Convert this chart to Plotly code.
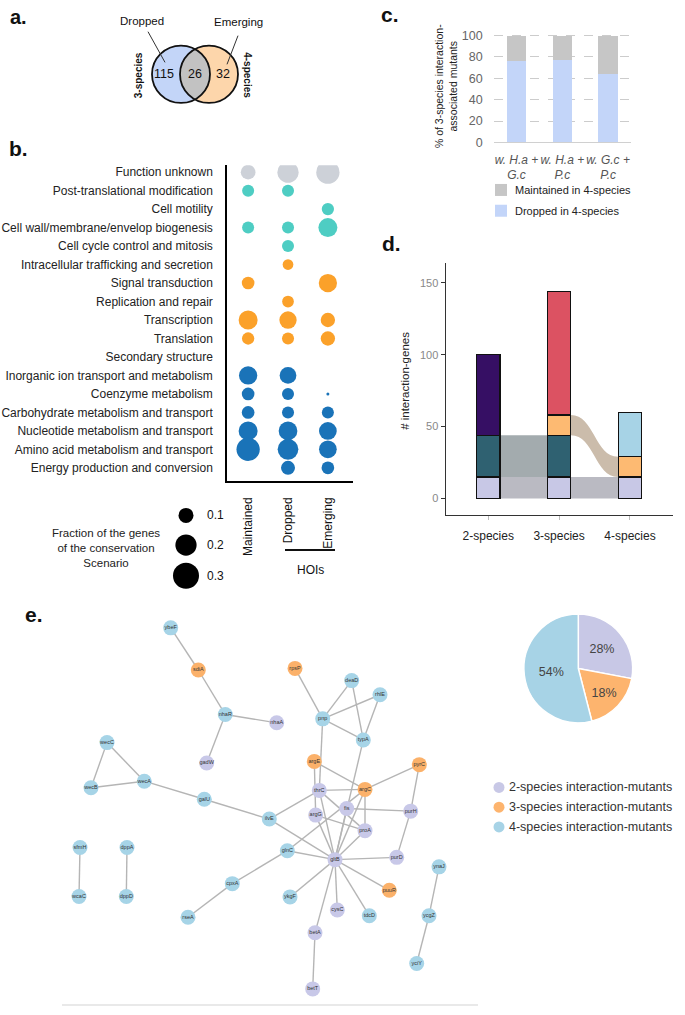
import numpy as np
import plotly.graph_objects as go

W, H = 685, 1015
FONT = "Liberation Sans, Arial, Helvetica, sans-serif"

# ================= DATA =================
# a. Venn diagram
venn_set_labels = ["Dropped", "Emerging"]
venn_side_labels = ["3-species", "4-species"]
venn_counts = [115, 26, 32]          # 3-species only, shared, 4-species only

# b. COG dot plot
cog_categories = [
    "Function unknown", "Post-translational modification", "Cell motility",
    "Cell wall/membrane/envelop biogenesis", "Cell cycle control and mitosis",
    "Intracellular trafficking and secretion", "Signal transduction",
    "Replication and repair", "Transcription", "Translation",
    "Secondary structure", "Inorganic ion transport and metabolism",
    "Coenzyme metabolism", "Carbohydrate metabolism and transport",
    "Nucleotide metabolism and transport", "Amino acid metabolism and transport",
    "Energy production and conversion"]
cog_class = ["unknown", "cellular", "cellular", "cellular", "cellular",
             "info", "info", "info", "info", "info", "info",
             "metab", "metab", "metab", "metab", "metab", "metab"]
scenarios = ["Maintained", "Dropped", "Emerging"]
frac_maintained = [0.096, 0.064, None, 0.064, None, None, 0.071, None, 0.16, 0.067,
                   None, 0.148, 0.071, 0.071, 0.16, 0.24, None]
frac_dropped = [0.20, 0.064, None, 0.064, 0.064, 0.051, None, 0.061, 0.133, 0.064,
                None, 0.124, 0.064, 0.064, 0.155, 0.19, 0.087]
frac_emerging = [0.24, None, 0.067, 0.16, None, None, 0.148, None, 0.091, 0.091,
                 None, None, 0.004, 0.064, 0.139, 0.139, 0.071]
size_legend_values = [0.1, 0.2, 0.3]
size_legend_title = "Fraction of the genes<br>of the conservation<br>Scenario"

# c. stacked percentage bars
c_conditions = ["w. H.a +<br>G.c", "w. H.a +<br>P.c", "w. G.c +<br>P.c"]
c_dropped = [76, 77, 64]
c_maintained = [24, 23, 36]
c_series_names = ["Maintained in 4-species", "Dropped in 4-species"]

# d. alluvial stacked bars
d_stages = ["2-species", "3-species", "4-species"]
d_shared_all = [15, 15, 15]
d_shared_23 = [29, 29, None]
d_shared_34 = [None, 14, 14]
d_only_2 = [56, None, None]
d_only_3 = [None, 86, None]
d_only_4 = [None, None, 31]

# e. network
node_names = ["ybeF", "sdiA", "nhaR", "gadW", "nhaA", "wecC", "wecB", "wecA", "galU",
              "sfmH", "wcaC", "dppA", "dppD", "cpxA", "rseA", "rpsP", "deaD", "rhlE",
              "pnp", "typA", "argE", "pyrC", "thrC", "argC", "fis", "purH", "argG",
              "ilvE", "proA", "glnC", "gltB", "purD", "ynaJ", "ykgF", "puuR", "cysC",
              "tdcD", "ycgZ", "betA", "yciY", "betT"]
node_x = [170.7, 198.3, 225.3, 206.7, 276.7, 107, 91, 144.3, 204.3,
          80, 79, 127, 126.3, 232.3, 188, 295, 351.7, 380,
          322.7, 363.3, 314.3, 419.3, 319.3, 365, 346.7, 410.7, 315.7,
          269.3, 365, 287.3, 335, 396.7, 439, 290, 389.3, 337.3,
          369.3, 429, 315, 416.7, 312.7]
node_y = [630.7, 673.3, 718.3, 767.3, 726.7, 746.7, 792.3, 785.7, 804,
          852.7, 902.3, 852.7, 902.3, 889.3, 923.3, 671.7, 684, 698.3,
          722.7, 744, 765.7, 769, 795, 794, 813.3, 816, 820,
          824, 835.7, 856, 865, 862.7, 872.3, 902.7, 896, 916,
          921.7, 921.7, 939, 970, 995.7]
node_group = [4, 3, 4, 2, 2, 4, 4, 4, 4,
              4, 4, 4, 4, 4, 4, 3, 4, 4,
              4, 4, 3, 3, 2, 3, 2, 2, 2,
              4, 2, 4, 2, 2, 4, 4, 3, 2,
              4, 4, 2, 4, 2]
edges = [("ybeF", "sdiA"), ("sdiA", "nhaR"), ("nhaR", "gadW"), ("nhaR", "nhaA"),
         ("wecC", "wecB"), ("wecC", "wecA"), ("wecB", "wecA"), ("wecA", "galU"),
         ("galU", "ilvE"), ("sfmH", "wcaC"), ("dppA", "dppD"), ("cpxA", "rseA"),
         ("cpxA", "glnC"), ("rpsP", "pnp"), ("pnp", "deaD"), ("pnp", "rhlE"),
         ("pnp", "typA"), ("deaD", "typA"), ("rhlE", "typA"), ("pnp", "thrC"),
         ("argE", "argG"), ("argE", "argC"), ("thrC", "argC"), ("argC", "pyrC"),
         ("argC", "glnC"), ("thrC", "ilvE"), ("ilvE", "gltB"), ("thrC", "proA"),
         ("fis", "purH"), ("argG", "proA"), ("argC", "proA"), ("typA", "gltB"),
         ("argC", "gltB"), ("fis", "gltB"), ("thrC", "gltB"), ("argG", "gltB"),
         ("proA", "gltB"), ("pyrC", "purH"), ("purH", "purD"), ("gltB", "purD"),
         ("gltB", "glnC"), ("gltB", "ykgF"), ("gltB", "cysC"), ("gltB", "tdcD"),
         ("gltB", "puuR"), ("gltB", "betA"), ("betA", "betT"), ("ynaJ", "ycgZ"),
         ("ycgZ", "yciY")]
pie_labels = ["2-species interaction-mutants", "3-species interaction-mutants",
              "4-species interaction-mutants"]
pie_values = [28, 18, 54]

# ================= STYLE =================
cog_colors = {"unknown": "#cdd1d8", "cellular": "#4ecdc3", "info": "#fba12a", "metab": "#1a73b8"}
c_colors = {"Maintained in 4-species": "#c6c6c6", "Dropped in 4-species": "#c3d5f9"}
d_colors = ["#c8c8e6", "#2f6171", "#fdba72", "#360f64", "#dc5262", "#a7d3e6"]
flow_colors = ["#babac2", "#a3abae", "#cbbcab"]
net_colors = {2: "#c8c8e8", 3: "#fbb16a", 4: "#a6d4e7"}
pie_colors = ["#c8c8e6", "#fdb46e", "#a7d3e6"]
K = 47.5  # dot diameter per sqrt(fraction)


def xd(a, b):
    return [a / W, b / W]


def yd(top, bottom):
    return [1 - bottom / H, 1 - top / H]


fig = go.Figure()
shapes = []
annotations = []


def ann(x, y, text, size=12, color="#222", xanchor="center", yanchor="middle",
        angle=0, bold=False, align="center", family=FONT):
    annotations.append(dict(
        x=x, y=y, xref="x", yref="y", text=("<b>%s</b>" % text) if bold else text,
        showarrow=False, xanchor=xanchor, yanchor=yanchor, textangle=angle,
        align=align, font=dict(size=size, color=color, family=family)))


# ---------- panel letters ----------
ann(18, 0, "a.", size=20, color="#111", bold=True, yanchor="top")
ann(18, 146, "b.", size=21, color="#111", bold=True)
ann(390, 11, "c.", size=21, color="#111", bold=True)
ann(391, 242, "d.", size=21, color="#111", bold=True)
ann(34, 617, "e.", size=21, color="#111", bold=True)

# ---------- a. Venn ----------
cxL, cxR, cy, r = 181, 209, 71, 29
shapes.append(dict(type="circle", xref="x", yref="y", x0=cxL - r, x1=cxL + r,
                   y0=cy - r, y1=cy + r, fillcolor="#c3d5f8", line=dict(width=0), layer="above"))
shapes.append(dict(type="circle", xref="x", yref="y", x0=cxR - r, x1=cxR + r,
                   y0=cy - r, y1=cy + r, fillcolor="#fdd6ab", line=dict(width=0), layer="above"))
half = (cxR - cxL) / 2.0
alpha = np.arccos(half / r)
t1 = np.linspace(-alpha, alpha, 40)
lx = np.concatenate([cxL + r * np.cos(t1), cxR - r * np.cos(t1[::-1])])
ly = np.concatenate([cy + r * np.sin(t1), cy + r * np.sin(t1[::-1])])
lens = "M " + " L ".join("%.2f,%.2f" % (a, b) for a, b in zip(lx, ly)) + " Z"
shapes.append(dict(type="path", xref="x", yref="y", path=lens, fillcolor="#c2c2c2",
                   line=dict(width=0), layer="above"))
for cx in (cxL, cxR):
    shapes.append(dict(type="circle", xref="x", yref="y", x0=cx - r, x1=cx + r,
                       y0=cy - r, y1=cy + r, line=dict(color="#111", width=1.8), layer="above"))
ann(164, 71, str(venn_counts[0]), size=12.5, color="#111")
ann(195, 71, str(venn_counts[1]), size=12.5, color="#111")
ann(223, 71, str(venn_counts[2]), size=12.5, color="#111")
ann(142, 17, venn_set_labels[0], size=11.5, color="#111")
ann(238, 18, venn_set_labels[1], size=11.5, color="#111")
shapes.append(dict(type="line", xref="x", yref="y", x0=148, y0=28, x1=165, y1=59,
                   line=dict(color="#333", width=1), layer="above"))
shapes.append(dict(type="line", xref="x", yref="y", x0=238, y0=32, x1=227, y1=61,
                   line=dict(color="#333", width=1), layer="above"))
ann(138, 72, venn_side_labels[0], size=10, color="#111", angle=-90, bold=True)
ann(248, 72, venn_side_labels[1], size=10, color="#111", angle=90, bold=True)

# ---------- b. dot plot ----------
# invisible traces to register all categories
fig.add_trace(go.Scatter(x=[scenarios[0]] * len(cog_categories), y=cog_categories,
                         mode="markers", marker=dict(opacity=0), xaxis="x2", yaxis="y2",
                         hoverinfo="skip", showlegend=False))
fig.add_trace(go.Scatter(x=scenarios, y=[cog_categories[0]] * 3, mode="markers",
                         marker=dict(opacity=0), xaxis="x2", yaxis="y2",
                         hoverinfo="skip", showlegend=False))
for scen, fr in zip(scenarios, [frac_maintained, frac_dropped, frac_emerging]):
    xs, ys, ss, cs = [], [], [], []
    for cat, cl, f in zip(cog_categories, cog_class, fr):
        if f is None:
            continue
        xs.append(scen)
        ys.append(cat)
        ss.append(K * np.sqrt(f))
        cs.append(cog_colors[cl])
    fig.add_trace(go.Scatter(x=xs, y=ys, mode="markers", xaxis="x2", yaxis="y2",
                             marker=dict(size=ss, color=cs, opacity=1, line=dict(width=0)),
                             showlegend=False, hoverinfo="skip"))
# size legend (drawn on overlay with same scale)
leg_y = [517, 547, 578]
fig.add_trace(go.Scatter(x=[186] * 3, y=leg_y, mode="markers", xaxis="x", yaxis="y",
                         marker=dict(size=[K * np.sqrt(v) for v in size_legend_values],
                                     color="black", opacity=1, line=dict(width=0)),
                         showlegend=False, hoverinfo="skip"))
for v, yy in zip(size_legend_values, leg_y):
    ann(205, yy, "%.1f" % v, size=12, color="#111", xanchor="left")
ann(106, 550, size_legend_title, size=11.5, color="#222")
shapes.append(dict(type="line", xref="x", yref="y", x0=285, y0=552, x1=335, y1=552,
                   line=dict(color="#111", width=2), layer="above"))
ann(310, 572, "HOIs", size=12, color="#111")

# ---------- c. bars ----------
fig.add_trace(go.Bar(x=c_conditions, y=c_dropped, name=c_series_names[1],
                     marker=dict(color=c_colors[c_series_names[1]], line=dict(width=0)),
                     width=0.42, xaxis="x3", yaxis="y3", showlegend=False, hoverinfo="skip"))
fig.add_trace(go.Bar(x=c_conditions, y=c_maintained, name=c_series_names[0],
                     marker=dict(color=c_colors[c_series_names[0]], line=dict(width=0)),
                     width=0.42, xaxis="x3", yaxis="y3", showlegend=False, hoverinfo="skip"))
fig.add_trace(go.Scatter(x=[501, 501], y=[188, 209], mode="markers", xaxis="x", yaxis="y",
                         marker=dict(symbol="square", size=12, opacity=1,
                                     color=[c_colors[n] for n in c_series_names]),
                         showlegend=False, hoverinfo="skip"))
ann(513, 188, c_series_names[0], size=11, color="#222", xanchor="left")
ann(513, 209, c_series_names[1], size=11, color="#222", xanchor="left")
ann(446, 83, "% of 3-species interaction-<br>associated mutants", size=10.5,
    color="#222", angle=-90)

# ---------- d. alluvial ----------
stage_x = list(range(len(d_stages)))
d_layers = [d_shared_all, d_shared_23, d_shared_34, d_only_2, d_only_3, d_only_4]
bw = 0.33
base = [0.0] * len(d_stages)
bounds = []
for vals in d_layers:
    b = []
    for i, v in enumerate(vals):
        if v is None:
            b.append(None)
        else:
            b.append((base[i], base[i] + v))
            base[i] += v
    bounds.append(b)
for li, fc in enumerate(flow_colors):
    b = bounds[li]
    for i in range(len(d_stages) - 1):
        if b[i] is None or b[i + 1] is None:
            continue
        x0 = stage_x[i] + bw / 2
        x1 = stage_x[i + 1] - bw / 2
        xm = (x0 + x1) / 2
        (b0, t0), (b1, t1_) = b[i], b[i + 1]
        p = ("M %f,%f C %f,%f %f,%f %f,%f L %f,%f C %f,%f %f,%f %f,%f Z" %
             (x0, t0, xm, t0, xm, t1_, x1, t1_, x1, b1, xm, b1, xm, b0, x0, b0))
        shapes.append(dict(type="path", xref="x4", yref="y4", path=p, fillcolor=fc,
                           line=dict(width=0), layer="below"))
for vals, col in zip(d_layers, d_colors):
    fig.add_trace(go.Bar(x=stage_x, y=vals, width=bw, xaxis="x4", yaxis="y4",
                         marker=dict(color=col, line=dict(color="#111", width=1.3)),
                         showlegend=False, hoverinfo="skip"))
ann(405, 381, "# interaction-genes", size=11.5, color="#222", angle=-90)

# ---------- e. network ----------
pos = {n: (x, y) for n, x, y in zip(node_names, node_x, node_y)}
ex, ey = [], []
for a, b in edges:
    ex += [pos[a][0], pos[b][0], None]
    ey += [pos[a][1], pos[b][1], None]
fig.add_trace(go.Scatter(x=ex, y=ey, mode="lines", xaxis="x", yaxis="y",
                         line=dict(color="#b5b5b5", width=1.4),
                         showlegend=False, hoverinfo="skip"))
fig.add_trace(go.Scatter(x=node_x, y=node_y, mode="markers+text", text=node_names,
                         textposition="middle center", xaxis="x", yaxis="y",
                         textfont=dict(size=5.5, color="#333"),
                         marker=dict(size=15, opacity=1,
                                     color=[net_colors[g] for g in node_group],
                                     line=dict(width=0)),
                         showlegend=False, hoverinfo="skip"))
shapes.append(dict(type="line", xref="x", yref="y", x0=62, y0=1012, x1=478, y1=1012,
                   line=dict(color="#e2e2e2", width=1.5), layer="above"))

# pie
fig.add_trace(go.Pie(values=pie_values, labels=pie_labels, sort=False, direction="clockwise",
                     rotation=0, domain=dict(x=xd(523.3, 633.3), y=yd(616.7, 726.7)),
                     marker=dict(colors=pie_colors, line=dict(color="white", width=1.5)),
                     texttemplate="%{percent:.0%}", textposition="inside",
                     insidetextorientation="horizontal",
                     textfont=dict(size=12.5, color="#444", family=FONT),
                     showlegend=False, hoverinfo="skip"))
pl_y = [792, 812, 832]
fig.add_trace(go.Scatter(x=[499] * 3, y=pl_y, mode="markers", xaxis="x", yaxis="y",
                         marker=dict(size=11, color=pie_colors, opacity=1, line=dict(width=0)),
                         showlegend=False, hoverinfo="skip"))
for lab, yy in zip(pie_labels, pl_y):
    ann(507, yy, lab, size=12.5, color="#333", xanchor="left")

# ================= LAYOUT =================
fig.update_layout(
    width=W, height=H, autosize=False,
    margin=dict(l=0, r=0, t=0, b=0, pad=0),
    paper_bgcolor="white", plot_bgcolor="rgba(0,0,0,0)",
    font=dict(family=FONT, color="#222"),
    showlegend=False, barmode="stack",
    xaxis=dict(domain=[0, 1], range=[0, W], visible=False, fixedrange=True),
    yaxis=dict(domain=[0, 1], range=[H, 0], visible=False, fixedrange=True),
    xaxis2=dict(domain=xd(227, 353), range=[-0.53, 2.63], type="category",
                categoryorder="array", categoryarray=scenarios, anchor="y2",
                showline=True, linecolor="black", linewidth=1.5, ticks="",
                tickangle=-90, tickfont=dict(size=12, color="#111"),
                ticklabelstandoff=10, showgrid=False, zeroline=False),
    yaxis2=dict(domain=yd(163, 482), range=[16.7, -0.375], type="category",
                categoryorder="array", categoryarray=cog_categories, anchor="x2",
                showline=True, linecolor="black", linewidth=1.5, ticks="",
                tickfont=dict(size=12, color="#222"), ticklabelstandoff=10,
                showgrid=False, zeroline=False),
    xaxis3=dict(domain=xd(493.6, 631), range=[-0.5, 2.5], type="category", anchor="y3",
                showline=True, linecolor="#d0d0d0", linewidth=1, ticks="",
                tickfont=dict(size=12, color="#555", style="italic"),
                ticklabelstandoff=6, showgrid=False, zeroline=False),
    yaxis3=dict(domain=yd(29.8, 140), range=[0, 102], anchor="x3",
                tickvals=[0, 20, 40, 60, 80, 100], showgrid=True, gridcolor="#cccccc",
                griddash="dash", gridwidth=1, showline=False, zeroline=False, ticks="",
                tickfont=dict(size=12.5, color="#666"), ticklabelstandoff=10),
    xaxis4=dict(domain=xd(445.7, 673), range=[-0.6, 2.607], anchor="y4",
                tickvals=stage_x, ticktext=d_stages, showline=True, linecolor="#333",
                linewidth=1.3, ticks="outside", ticklen=4, tickcolor="#bbbbbb",
                tickfont=dict(size=12, color="#222"), ticklabelstandoff=5,
                showgrid=False, zeroline=False),
    yaxis4=dict(domain=yd(262, 516.7), range=[-11.5, 163.6], anchor="x4",
                tickvals=[0, 50, 100, 150], showline=True, linecolor="#333",
                linewidth=1.3, ticks="outside", ticklen=4, tickcolor="#333",
                tickfont=dict(size=11, color="#888"), showgrid=False, zeroline=False),
    shapes=shapes,
    annotations=annotations,
)

fig.write_html("out.html", config={"displayModeBar": False},
               post_script="document.body.style.margin='0';document.body.style.overflow='hidden';")
